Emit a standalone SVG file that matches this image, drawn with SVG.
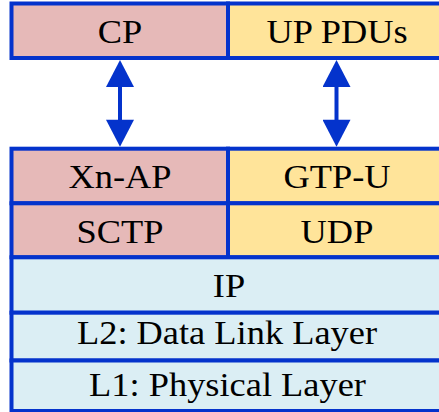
<svg xmlns="http://www.w3.org/2000/svg" width="439" height="412" viewBox="0 0 439 412">
  <style>
    .cell { stroke: #0433CC; stroke-width: 4; }
    .cp { fill: #E6B9B8; }
    .up { fill: #FFE49A; }
    .tr { fill: #DBEEF4; }
    .lbl { font-family: "Liberation Serif", "Times New Roman", serif; font-size: 34.5px; fill: #000; text-anchor: middle; }
    .link { stroke: #0433CC; stroke-width: 4; fill: none; marker-start: url(#head); marker-end: url(#head); }
  </style>
  <defs>
    <marker id="head" markerUnits="userSpaceOnUse" markerWidth="28" markerHeight="28" viewBox="0 0 27 28" refX="7" refY="14" orient="auto-start-reverse">
      <path d="M0,0 L27,14 L0,28 z" fill="#0433CC"/>
    </marker>
  </defs>

  <!-- upper stack: application layers -->
  <g id="cp">
    <rect class="cell cp" x="11.5" y="3.5" width="216.5" height="54.5"/>
    <text class="lbl" transform="translate(120 42.7) scale(1.055 1)">CP</text>
  </g>
  <g id="up-pdus">
    <rect class="cell up" x="228" y="3.5" width="218" height="54.5"/>
    <text class="lbl" transform="translate(337 42.7) scale(1.055 1)">UP PDUs</text>
  </g>

  <!-- lower stack: Xn protocol layers -->
  <g id="xn-ap">
    <rect class="cell cp" x="11.5" y="148.7" width="216.5" height="54.6"/>
    <text class="lbl" transform="translate(120 188.3) scale(1.055 1)">Xn-AP</text>
  </g>
  <g id="gtp-u">
    <rect class="cell up" x="228" y="148.7" width="218" height="54.6"/>
    <text class="lbl" transform="translate(337 188.3) scale(1.055 1)">GTP-U</text>
  </g>
  <g id="sctp">
    <rect class="cell cp" x="11.5" y="203.3" width="216.5" height="54"/>
    <text class="lbl" transform="translate(120 243.3) scale(1.055 1)">SCTP</text>
  </g>
  <g id="udp">
    <rect class="cell up" x="228" y="203.3" width="218" height="54"/>
    <text class="lbl" transform="translate(337 243.3) scale(1.055 1)">UDP</text>
  </g>
  <g id="ip">
    <rect class="cell tr" x="11.5" y="257.3" width="434.5" height="55.4"/>
    <text class="lbl" transform="translate(229 296.7) scale(1.055 1)">IP</text>
  </g>
  <g id="l2">
    <rect class="cell tr" x="11.5" y="312.7" width="434.5" height="47.8"/>
    <text class="lbl" transform="translate(227 344.3) scale(1.055 1)">L2: Data Link Layer</text>
  </g>
  <g id="l1">
    <rect class="cell tr" x="11.5" y="360.5" width="434.5" height="50.5"/>
    <text class="lbl" transform="translate(227.5 396) scale(1.055 1)">L1: Physical Layer</text>
  </g>

  <!-- double-headed links between the stacks -->
  <g id="connectors">
    <line class="link" x1="120" y1="80" x2="120" y2="126.7"/>
    <line class="link" x1="336.5" y1="80" x2="336.5" y2="126.7"/>
  </g>
</svg>
